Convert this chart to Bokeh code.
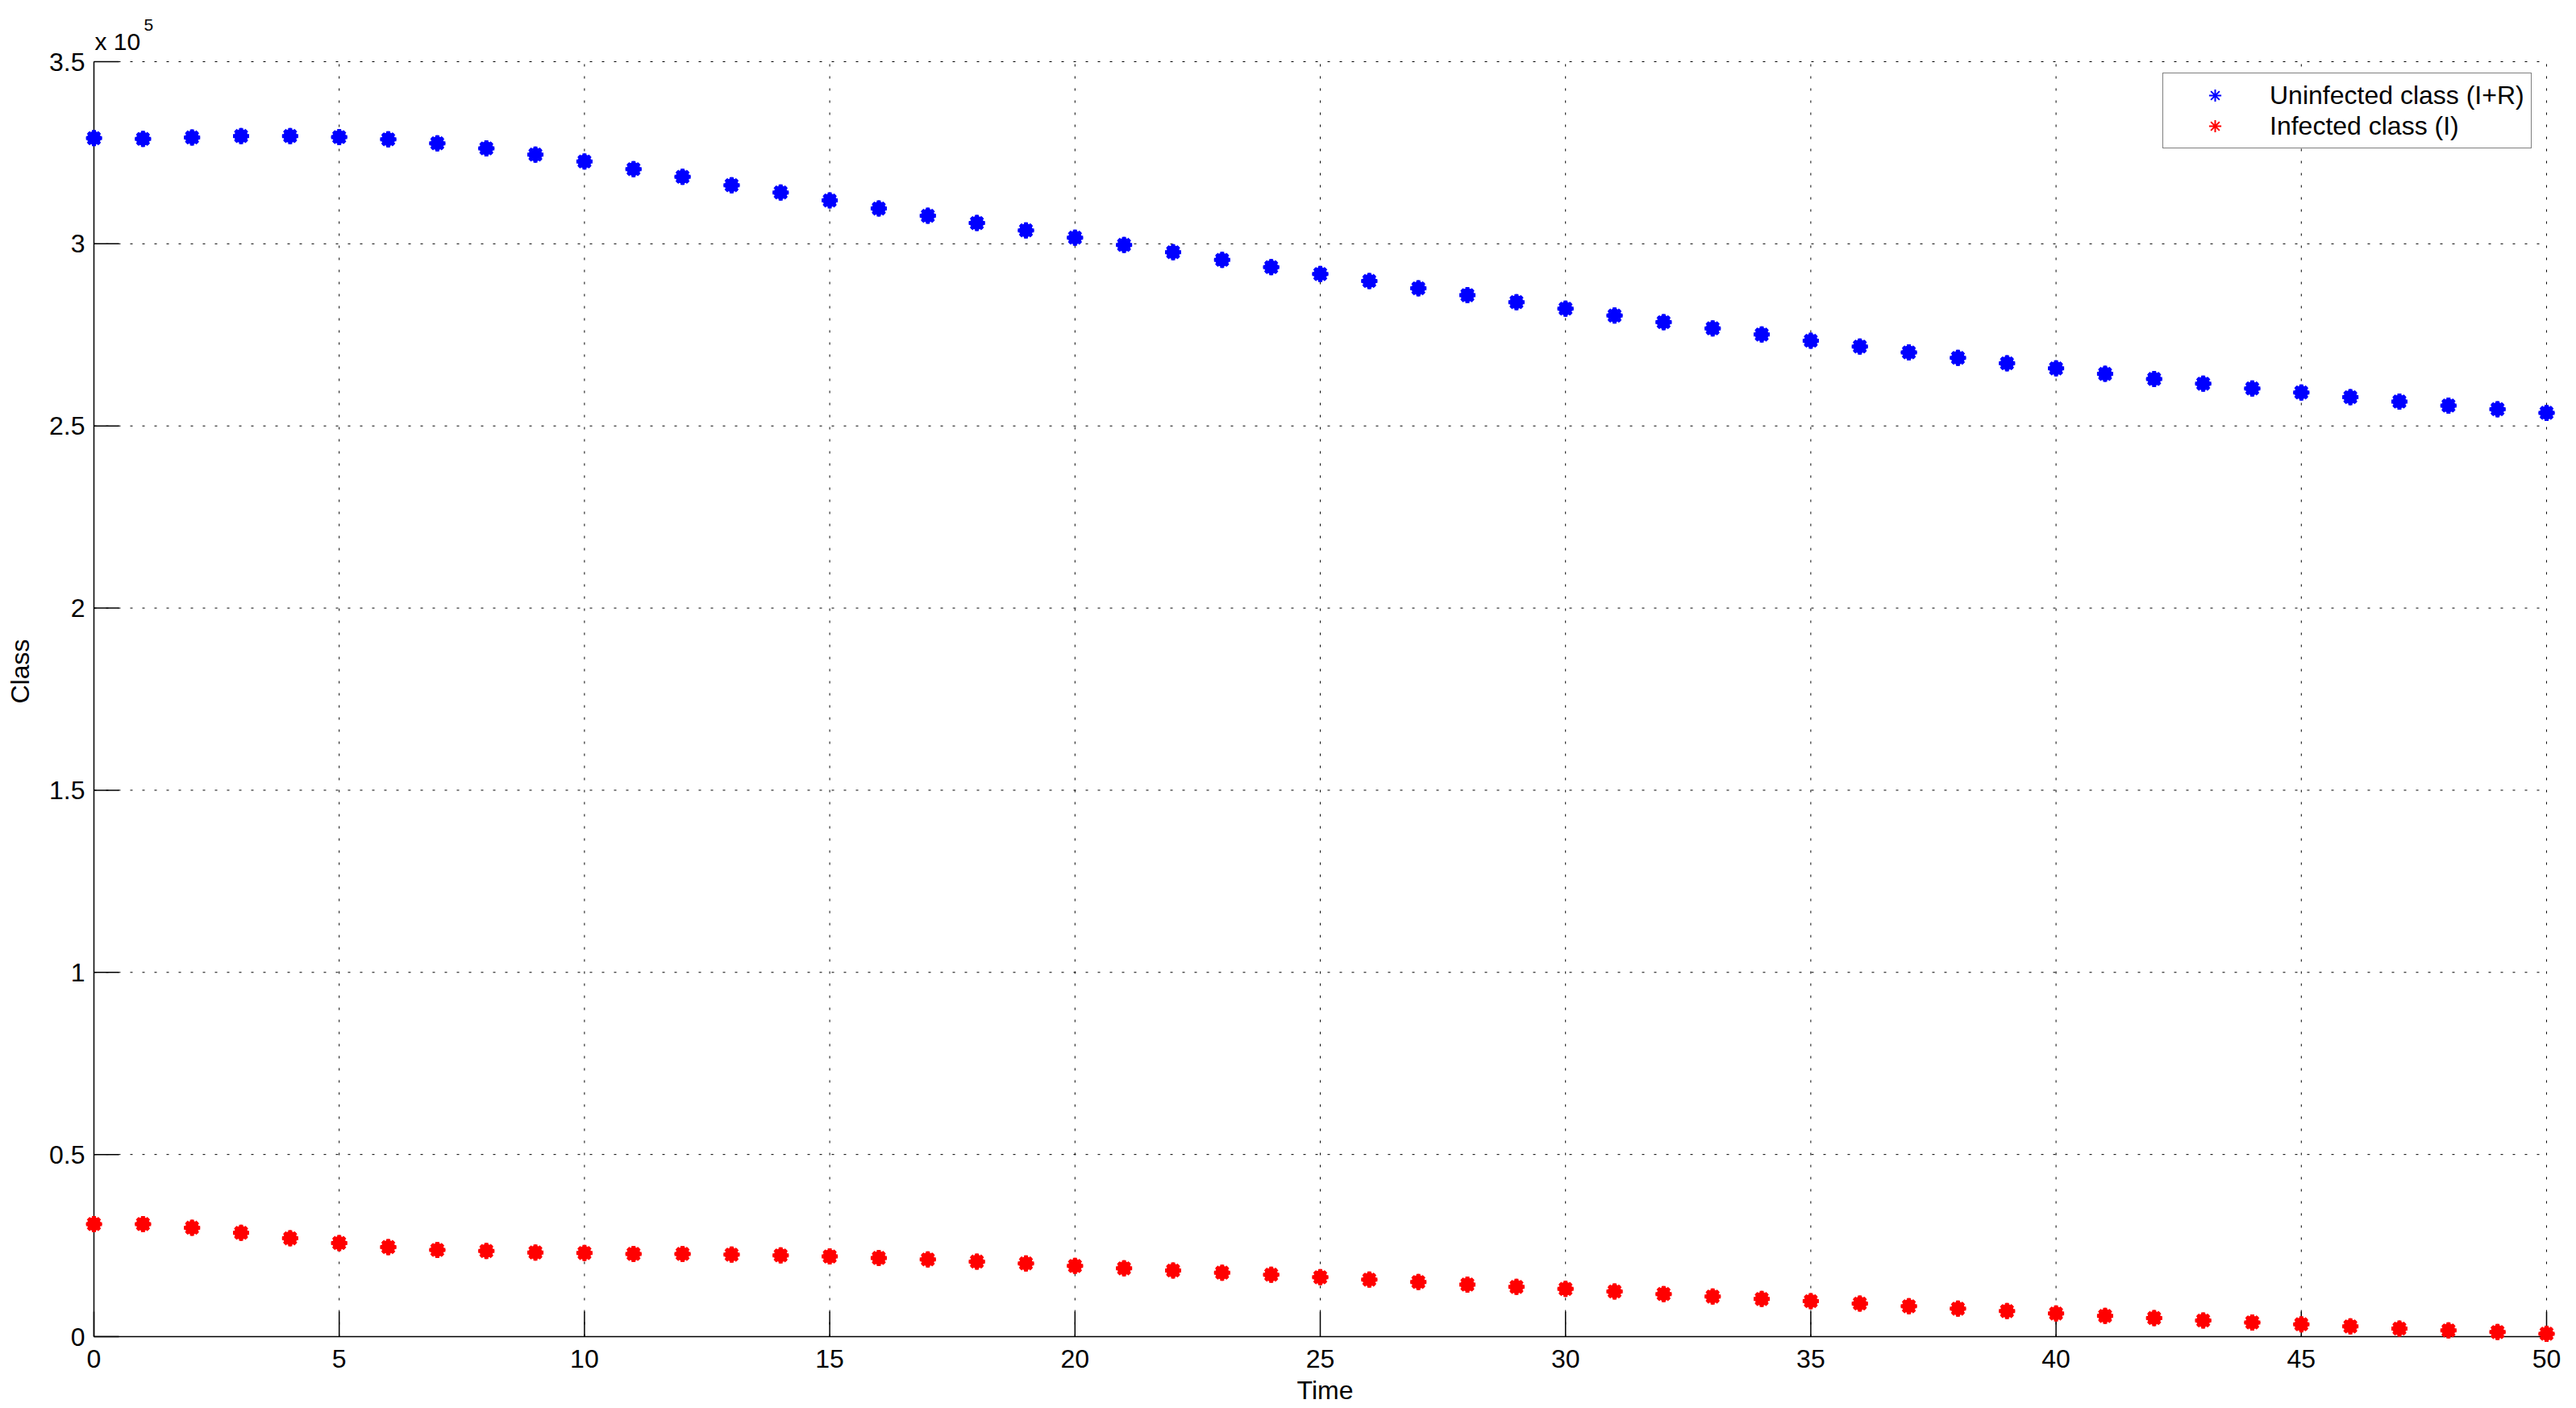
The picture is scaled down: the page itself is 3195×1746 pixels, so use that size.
from bokeh.plotting import figure
from bokeh.models import Range1d, FixedTicker, Legend, LegendItem
from bokeh.core.properties import value
from bokeh.embed import file_html
from bokeh.resources import INLINE

time = list(range(0, 51))

uninfected = [3.290, 3.288, 3.292, 3.296, 3.296, 3.293, 3.287, 3.276, 3.262, 3.245,
              3.226, 3.205, 3.184, 3.161, 3.141, 3.119, 3.097, 3.077, 3.057, 3.037,
              3.017, 2.997, 2.977, 2.956, 2.936, 2.917, 2.898, 2.878, 2.859, 2.840,
              2.822, 2.803, 2.785, 2.768, 2.751, 2.734, 2.718, 2.702, 2.687, 2.672,
              2.658, 2.643, 2.629, 2.616, 2.603, 2.592, 2.579, 2.567, 2.556, 2.546,
              2.536]
infected = [0.309, 0.309, 0.299, 0.285, 0.270, 0.257, 0.246, 0.238, 0.235, 0.231,
            0.2296, 0.227, 0.227, 0.225, 0.223, 0.220, 0.216, 0.212, 0.206, 0.201,
            0.194, 0.1875, 0.1815, 0.1756, 0.170, 0.163, 0.1565, 0.150, 0.143, 0.1366,
            0.131, 0.124, 0.117, 0.110, 0.1034, 0.0974, 0.0908, 0.0834, 0.0768, 0.0702,
            0.0635, 0.0569, 0.051, 0.0443, 0.039, 0.0339, 0.028, 0.0221, 0.017, 0.0126,
            0.008]
uninfected = [v * 1e5 for v in uninfected]
infected = [v * 1e5 for v in infected]

x_ticks = list(range(0, 51, 5))
y_ticks = [0, 50000, 100000, 150000, 200000, 250000, 300000, 350000]
y_tick_labels = ["0", "0.5", "1", "1.5", "2", "2.5", "3", "3.5"]
x_min, x_max = 0, 50
y_min, y_max = 0, 350000
exponent_base = "x 10"
exponent = "5"

series_names = ["Uninfected class (I+R)", "Infected class (I)"]
series_colors = ["#0000ff", "#ff0000"]

FONT = "Liberation Sans"

# axes box (x_min..x_max, y_min..y_max) occupies pixels 116..3158 x 76..1657
AX_L, AX_R, AX_T, AX_B = 116, 3158, 76, 1657
BORDER_L = 106
FRAME_R = 3180
FRAME_B = 1664
TICK_LEN = 31
xpp = (x_max - x_min) / (AX_R - AX_L)
ypp = (y_max - y_min) / (AX_B - AX_T)
x_range = Range1d(x_min - (AX_L - BORDER_L) * xpp, x_max + (FRAME_R - AX_R) * xpp)
y_range = Range1d(y_min - (FRAME_B - AX_B) * ypp, y_max + AX_T * ypp)

p = figure(frame_width=FRAME_R - BORDER_L, frame_height=FRAME_B,
           min_border_left=BORDER_L, min_border_top=0, min_border_right=0, min_border_bottom=0,
           x_range=x_range, y_range=y_range, title=None,
           output_backend="svg", toolbar_location=None,
           background_fill_color="white", border_fill_color="white")
p.outline_line_color = None
p.xgrid.visible = False
p.ygrid.visible = False

# dotted grid lines, limited to the axes box
gx = [t for t in x_ticks if t != x_min]
p.segment(x0=gx, y0=[y_min] * len(gx), x1=gx, y1=[y_max] * len(gx),
          line_color="black", line_width=1, line_dash="3 12")
gy = [t for t in y_ticks if t != y_min]
p.segment(x0=[x_min] * len(gy), y0=gy, x1=[x_max] * len(gy), y1=gy,
          line_color="black", line_width=1, line_dash="3 12")

# axis lines and inward ticks (MATLAB style), drawn under the markers
p.segment(x0=[x_min, x_min], y0=[y_min, y_min], x1=[x_max, x_min], y1=[y_min, y_max],
          line_color="black", line_width=1.5)
p.segment(x0=x_ticks, y0=[y_min] * len(x_ticks), x1=x_ticks,
          y1=[y_min + TICK_LEN * ypp] * len(x_ticks), line_color="black", line_width=1.5)
p.segment(x0=[x_min] * len(y_ticks), y0=y_ticks, x1=[x_min + TICK_LEN * xpp] * len(y_ticks),
          y1=y_ticks, line_color="black", line_width=1.5)

legend_items = []
for vals, name, col in zip([uninfected, infected], series_names, series_colors):
    thin = p.scatter(time, vals, marker="asterisk", size=20, line_color=col, line_width=2)
    p.scatter(time, vals, marker="circle", size=17, fill_color=col, line_color=None)
    p.scatter(time, vals, marker="asterisk", size=20, line_color=col, line_width=5)
    legend_items.append(LegendItem(label=name, renderers=[thin]))

for ax in [p.xaxis[0], p.yaxis[0]]:
    ax.axis_line_color = None
    ax.major_tick_in = 0
    ax.major_tick_out = 0
    ax.major_tick_line_color = None
    ax.minor_tick_line_color = None
    ax.major_label_text_font = FONT
    ax.major_label_text_font_size = "32px"
    ax.major_label_text_color = "black"
    ax.axis_label_text_font = FONT
    ax.axis_label_text_font_size = "32px"
    ax.axis_label_text_font_style = "normal"
    ax.axis_label_text_color = "black"

p.xaxis.ticker = FixedTicker(ticks=x_ticks)
p.yaxis.ticker = FixedTicker(ticks=y_ticks)
p.yaxis.major_label_overrides = {t: l for t, l in zip(y_ticks, y_tick_labels)}
p.xaxis.axis_label = "Time"
p.yaxis.axis_label = "Class"
p.xaxis.major_label_standoff = 16 - (FRAME_B - AX_B)
p.xaxis.axis_label_standoff = 7
p.yaxis.major_label_standoff = 11 - (AX_L - BORDER_L)
p.yaxis.axis_label_standoff = 15

# "x 10^5" multiplier above the y axis
p.text(x=[x_min], y=[y_max], text=[exponent_base], x_offset=1, y_offset=-25,
       text_font=value(FONT), text_font_size="30px", text_baseline="alphabetic",
       text_align="left", text_color="black")
p.text(x=[x_min], y=[y_max], text=[exponent], x_offset=62, y_offset=-46,
       text_font=value(FONT), text_font_size="21px", text_baseline="alphabetic",
       text_align="left", text_color="black")

LEG_L, LEG_B = 2682, 184
legend = Legend(items=legend_items, location=(LEG_L - BORDER_L, FRAME_B - LEG_B),
                padding=8, spacing=0, glyph_width=112, glyph_height=38,
                label_standoff=12, label_text_font=FONT, label_text_font_size="32px",
                label_text_color="black", border_line_color="black",
                border_line_width=1.5, background_fill_color="white",
                background_fill_alpha=1.0)
p.add_layout(legend)

open("out.html", "w").write(file_html(p, INLINE))
